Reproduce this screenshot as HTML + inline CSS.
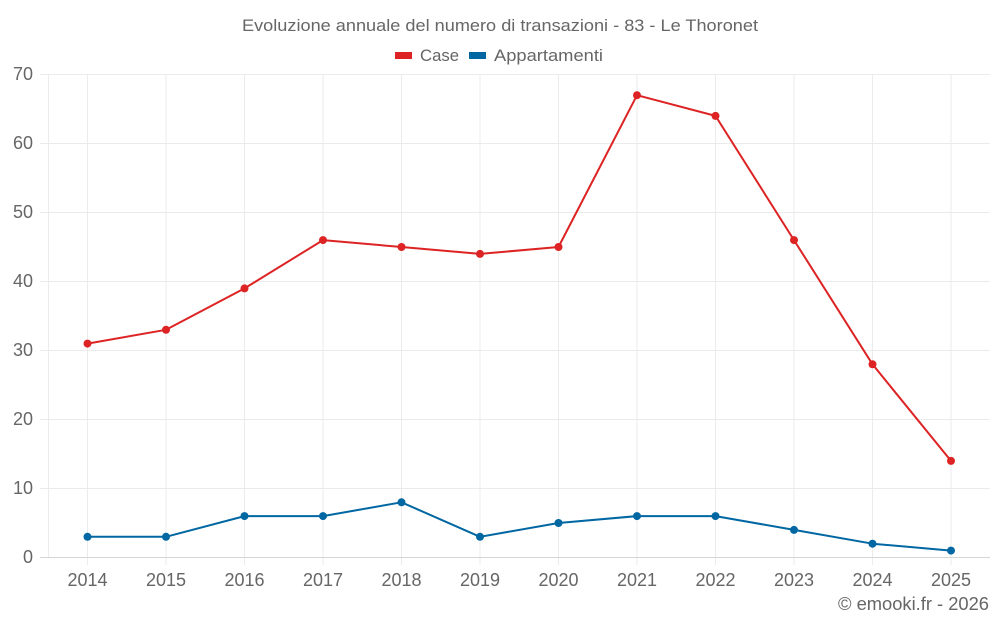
<!DOCTYPE html>
<html><head><meta charset="utf-8"><style>
html,body{margin:0;padding:0;background:#fff;}
svg{display:block;font-family:"Liberation Sans",Arial,sans-serif;}
</style></head><body>
<svg width="1000" height="625" viewBox="0 0 1000 625" xmlns="http://www.w3.org/2000/svg">
<rect width="1000" height="625" fill="#fff"/>
<text x="500" y="31" text-anchor="middle" font-size="17" fill="#666" textLength="516" lengthAdjust="spacingAndGlyphs">Evoluzione annuale del numero di transazioni - 83 - Le Thoronet</text>
<rect x="395" y="52" width="17" height="7" fill="#dd2323"/>
<text x="420" y="61" font-size="17" fill="#666" textLength="39" lengthAdjust="spacingAndGlyphs">Case</text>
<rect x="469" y="52" width="17" height="7" fill="#0067a3"/>
<text x="494" y="61" font-size="17" fill="#666" textLength="109" lengthAdjust="spacingAndGlyphs">Appartamenti</text>
<g stroke="#ebebeb" stroke-width="1">
<line x1="40" y1="74.5" x2="990" y2="74.5"/>
<line x1="40" y1="143.5" x2="990" y2="143.5"/>
<line x1="40" y1="212.5" x2="990" y2="212.5"/>
<line x1="40" y1="281.5" x2="990" y2="281.5"/>
<line x1="40" y1="350.5" x2="990" y2="350.5"/>
<line x1="40" y1="419.5" x2="990" y2="419.5"/>
<line x1="40" y1="488.5" x2="990" y2="488.5"/>
<line x1="48.5" y1="74" x2="48.5" y2="557"/>
<line x1="87.5" y1="74" x2="87.5" y2="565"/>
<line x1="166" y1="74" x2="166" y2="565"/>
<line x1="244.5" y1="74" x2="244.5" y2="565"/>
<line x1="323" y1="74" x2="323" y2="565"/>
<line x1="401.5" y1="74" x2="401.5" y2="565"/>
<line x1="480" y1="74" x2="480" y2="565"/>
<line x1="558.5" y1="74" x2="558.5" y2="565"/>
<line x1="637" y1="74" x2="637" y2="565"/>
<line x1="715.5" y1="74" x2="715.5" y2="565"/>
<line x1="794" y1="74" x2="794" y2="565"/>
<line x1="872.5" y1="74" x2="872.5" y2="565"/>
<line x1="951" y1="74" x2="951" y2="565"/>
</g>
<line x1="40" y1="557.5" x2="990" y2="557.5" stroke="#d6d6d6" stroke-width="1"/>
<g font-size="18" fill="#666" text-anchor="end">
<text x="33" y="80">70</text>
<text x="33" y="149">60</text>
<text x="33" y="218">50</text>
<text x="33" y="287">40</text>
<text x="33" y="356">30</text>
<text x="33" y="425">20</text>
<text x="33" y="494">10</text>
<text x="33" y="563">0</text>
</g>
<g font-size="18" fill="#666" text-anchor="middle">
<text x="87.5" y="586">2014</text>
<text x="166" y="586">2015</text>
<text x="244.5" y="586">2016</text>
<text x="323" y="586">2017</text>
<text x="401.5" y="586">2018</text>
<text x="480" y="586">2019</text>
<text x="558.5" y="586">2020</text>
<text x="637" y="586">2021</text>
<text x="715.5" y="586">2022</text>
<text x="794" y="586">2023</text>
<text x="872.5" y="586">2024</text>
<text x="951" y="586">2025</text>
</g>
<text x="989" y="610" font-size="18" fill="#666" text-anchor="end" textLength="151" lengthAdjust="spacingAndGlyphs">© emooki.fr - 2026</text>
<polyline fill="none" stroke="#dd2323" stroke-width="2" stroke-linejoin="round" points="87.5,343.6 166,329.8 244.5,288.4 323,240.1 401.5,247 480,253.9 558.5,247 637,95.2 715.5,115.9 794,240.1 872.5,364.3 951,460.9"/>
<g fill="#dd2323">
<circle cx="87.5" cy="343.6" r="4"/><circle cx="166" cy="329.8" r="4"/><circle cx="244.5" cy="288.4" r="4"/><circle cx="323" cy="240.1" r="4"/><circle cx="401.5" cy="247" r="4"/><circle cx="480" cy="253.9" r="4"/><circle cx="558.5" cy="247" r="4"/><circle cx="637" cy="95.2" r="4"/><circle cx="715.5" cy="115.9" r="4"/><circle cx="794" cy="240.1" r="4"/><circle cx="872.5" cy="364.3" r="4"/><circle cx="951" cy="460.9" r="4"/>
</g>
<polyline fill="none" stroke="#0067a3" stroke-width="2" stroke-linejoin="round" points="87.5,536.8 166,536.8 244.5,516.1 323,516.1 401.5,502.3 480,536.8 558.5,523 637,516.1 715.5,516.1 794,529.9 872.5,543.7 951,550.6"/>
<g fill="#0067a3">
<circle cx="87.5" cy="536.8" r="4"/><circle cx="166" cy="536.8" r="4"/><circle cx="244.5" cy="516.1" r="4"/><circle cx="323" cy="516.1" r="4"/><circle cx="401.5" cy="502.3" r="4"/><circle cx="480" cy="536.8" r="4"/><circle cx="558.5" cy="523" r="4"/><circle cx="637" cy="516.1" r="4"/><circle cx="715.5" cy="516.1" r="4"/><circle cx="794" cy="529.9" r="4"/><circle cx="872.5" cy="543.7" r="4"/><circle cx="951" cy="550.6" r="4"/>
</g>
</svg>
</body></html>
